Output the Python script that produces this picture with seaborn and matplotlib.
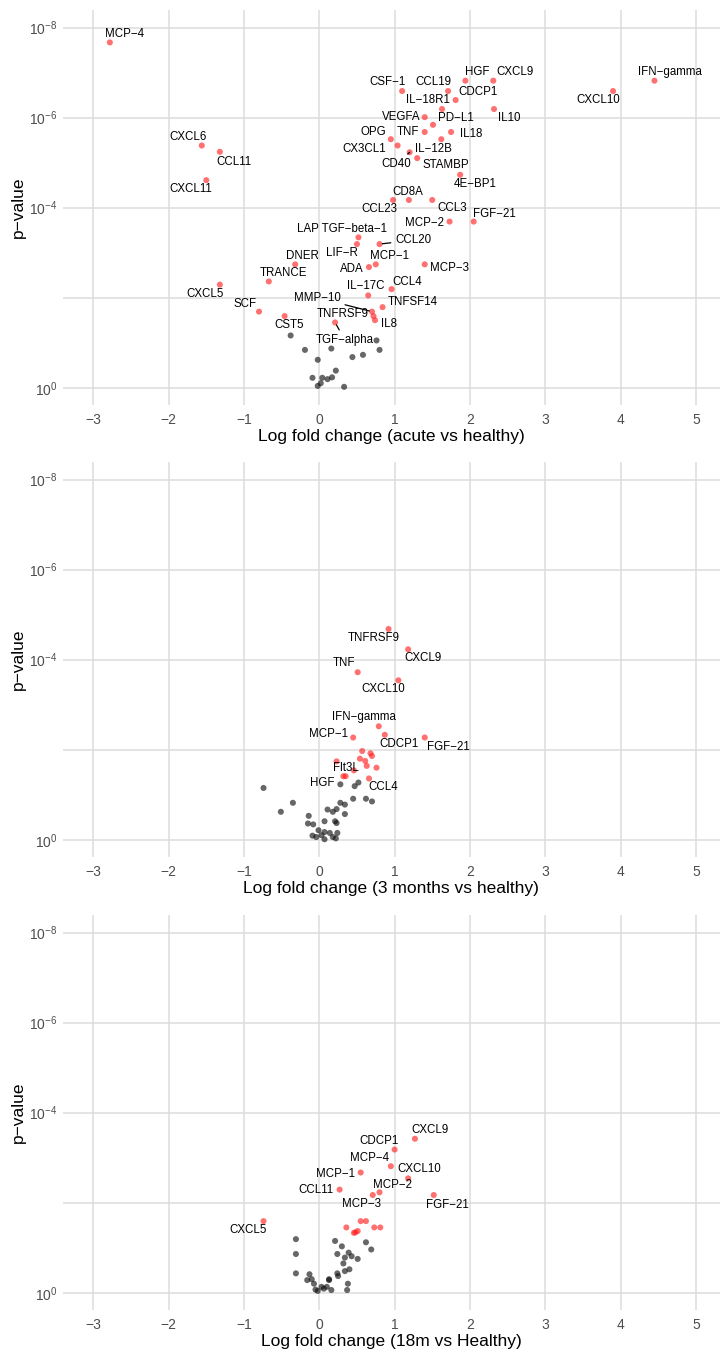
import matplotlib
matplotlib.use("Agg")
import matplotlib.pyplot as plt
import numpy as np
import pandas as pd
import seaborn as sns

# ---------------- data (log fold change, -log10 p-value) ----------------
# Panel 1: acute vs healthy
acute_sig_names = ["MCP-4", "CXCL6", "CCL11", "CXCL11", "CSF-1", "CCL19", "HGF", "CXCL9",
                   "CDCP1", "IL-18R1", "IL10", "CXCL10", "IFN-gamma", "VEGFA", "PD-L1", "TNF",
                   "IL18", "OPG", "IL-12B", "CX3CL1", "CD40", "STAMBP", "4E-BP1", "CCL23",
                   "CD8A", "CCL3", "MCP-2", "FGF-21", "LAP TGF-beta-1", "LIF-R", "CCL20",
                   "MCP-1", "ADA", "MCP-3", "DNER", "TRANCE", "CXCL5", "CCL4", "IL-17C",
                   "TNFSF14", "MMP-10", "TNFRSF9", "IL8", "SCF", "CST5", "TGF-alpha"]
acute_sig_lfc = [-2.78, -1.56, -1.32, -1.50, 1.10, 1.71, 1.94, 2.31,
                 1.81, 1.63, 2.32, 3.90, 4.45, 1.40, 1.51, 1.40,
                 1.75, 0.95, 1.62, 1.04, 1.20, 1.30, 1.87, 0.98,
                 1.19, 1.50, 1.73, 2.05, 0.52, 0.50, 0.80,
                 0.75, 0.66, 1.40, -0.32, -0.67, -1.32, 0.96, 0.65,
                 0.84, 0.70, 0.72, 0.74, -0.80, -0.46, 0.21]
acute_sig_nlp = [7.67, 5.38, 5.24, 4.61, 6.59, 6.59, 6.82, 6.82,
                 6.39, 6.19, 6.19, 6.59, 6.82, 6.01, 5.84, 5.68,
                 5.68, 5.52, 5.52, 5.38, 5.23, 5.10, 4.73, 4.17,
                 4.17, 4.17, 3.69, 3.69, 3.34, 3.19, 3.19,
                 2.74, 2.68, 2.74, 2.74, 2.36, 2.29, 2.19, 2.05,
                 1.79, 1.69, 1.59, 1.50, 1.69, 1.59, 1.45]
acute_ns_lfc = [-0.38, 0.76, -0.19, 0.16, 0.80, 0.44, 0.58, -0.02,
                0.22, -0.09, 0.04, 0.11, 0.17, 0.02, -0.02, 0.33]
acute_ns_nlp = [1.16, 1.05, 0.84, 0.87, 0.84, 0.68, 0.73, 0.62,
                0.38, 0.22, 0.22, 0.19, 0.23, 0.10, 0.04, 0.02]

# Panel 2: 3 months vs healthy
m3_sig_names = ["TNFRSF9", "CXCL9", "TNF", "CXCL10", "IFN-gamma", "MCP-1", "CDCP1", "FGF-21",
                "", "", "", "", "", "", "", "", "", "Flt3L", "", "CCL4"]
m3_sig_lfc = [0.92, 1.18, 0.51, 1.05, 0.79, 0.45, 0.87, 1.40,
              0.57, 0.68, 0.70, 0.54, 0.61, 0.63, 0.76, 0.23, 0.46, 0.32, 0.35, 0.66]
m3_sig_nlp = [4.68, 4.23, 3.72, 3.54, 2.52, 2.27, 2.33, 2.27,
              1.97, 1.92, 1.86, 1.80, 1.75, 1.64, 1.60, 1.74, 1.54, 1.41, 1.41, 1.36]
m3_ns_names = ["HGF"] + [""] * 30
m3_ns_lfc = [0.28, -0.74, -0.35, -0.51, 0.47, 0.52, 0.45, 0.62, 0.70, 0.28, 0.34,
             0.23, 0.11, 0.18, 0.34, -0.14, -0.15, -0.08, 0.07, 0.21, 0.23,
             -0.01, 0.07, 0.14, 0.24, -0.09, -0.04, 0.07, 0.22, 0.03, 0.18]
m3_ns_nlp = [1.23, 1.15, 0.82, 0.62, 1.19, 1.27, 0.91, 0.91, 0.85, 0.82, 0.78,
             0.68, 0.67, 0.62, 0.57, 0.53, 0.36, 0.34, 0.41, 0.41, 0.37,
             0.21, 0.17, 0.15, 0.15, 0.09, 0.06, 0.01, 0.03, 0.10, 0.06]

# Panel 3: 18 months vs healthy
m18_sig_names = ["CXCL9", "CDCP1", "MCP-4", "CXCL10", "MCP-1", "CCL11", "MCP-2", "MCP-3",
                 "FGF-21", "CXCL5", "", "", "", "", "", "", "", ""]
m18_sig_lfc = [1.27, 1.00, 0.95, 1.18, 0.55, 0.27, 0.80, 0.71, 1.52, -0.74,
               0.55, 0.62, 0.36, 0.73, 0.81, 0.48, 0.51, 0.46]
m18_sig_nlp = [3.42, 3.18, 2.81, 2.54, 2.67, 2.29, 2.23, 2.17, 2.17, 1.59,
               1.59, 1.59, 1.45, 1.45, 1.45, 1.34, 1.37, 1.33]
m18_ns_lfc = [-0.31, -0.31, -0.31, 0.21, 0.30, 0.62, 0.69, 0.24, 0.39, 0.34, 0.43,
              0.51, 0.32, 0.40, 0.34, 0.24, 0.25, 0.38, 0.37, -0.13, -0.16, -0.10,
              -0.07, 0.13, 0.13, -0.05, -0.02, 0.06, 0.10, 0.16, 0.03]
m18_ns_nlp = [1.19, 0.86, 0.43, 1.15, 1.03, 1.12, 0.96, 0.86, 0.89, 0.78, 0.81,
              0.75, 0.65, 0.52, 0.48, 0.43, 0.37, 0.20, 0.06, 0.41, 0.28, 0.30,
              0.20, 0.30, 0.28, 0.07, 0.04, 0.09, 0.13, 0.06, 0.13]

x_titles = ["Log fold change (acute vs healthy)",
            "Log fold change (3 months vs healthy)",
            "Log fold change (18m vs Healthy)"]
x_ticks = [-3, -2, -1, 0, 1, 2, 3, 4, 5]
y_ticks = [0, 2, 4, 6, 8]
y_ticklabels = ["$10^{0}$", "", "$10^{-4}$", "$10^{-6}$", "$10^{-8}$"]

# ---------------- label placement (pixel offsets from the point) ----------------
offsets = [
    {"MCP-4": (15, 8), "CXCL6": (-14, 9), "CCL11": (14, -10), "CXCL11": (-16, -9),
     "CSF-1": (-15, 9), "CCL19": (-15, 9), "HGF": (12, 9), "CXCL9": (22, 9),
     "CDCP1": (22, 8), "IL-18R1": (-14, 9), "IL10": (15, -9), "CXCL10": (-15, -9),
     "IFN-gamma": (15, 9), "VEGFA": (-24, 0), "PD-L1": (23, 7), "TNF": (-17, 0),
     "IL18": (20, -2), "OPG": (-18, 7), "IL-12B": (-8, -10), "CX3CL1": (-33, -3),
     "CD40": (-13, -12), "STAMBP": (29, -7), "4E-BP1": (15, -9), "CCL23": (-14, -9),
     "CD8A": (-1, 8), "CCL3": (20, -8), "MCP-2": (-25, -1), "FGF-21": (21, 8),
     "LAP TGF-beta-1": (-16, 8), "LIF-R": (-15, -9), "CCL20": (34, 4),
     "MCP-1": (14, 8), "ADA": (-17, -2), "MCP-3": (25, -4), "DNER": (7, 8),
     "TRANCE": (15, 8), "CXCL5": (-15, -9), "CCL4": (16, 7), "IL-17C": (-2, 9),
     "TNFSF14": (30, 5), "MMP-10": (-55, 14), "TNFRSF9": (-31, 2), "IL8": (14, -4),
     "SCF": (-14, 8), "CST5": (5, -9), "TGF-alpha": (10, -18)},
    {"TNFRSF9": (-15, -9), "CXCL9": (15, -9), "TNF": (-14, 9), "CXCL10": (-15, -9),
     "IFN-gamma": (-15, 9), "MCP-1": (-25, 4), "CDCP1": (14, -9), "FGF-21": (24, -9),
     "Flt3L": (3, 8), "HGF": (-18, 1), "CCL4": (14, -9)},
    {"CXCL9": (15, 9), "CDCP1": (-16, 9), "MCP-4": (-21, 8), "CXCL10": (11, 9),
     "MCP-1": (-25, -1), "CCL11": (-24, 0), "MCP-2": (13, 7), "MCP-3": (-11, -9),
     "FGF-21": (14, -10), "CXCL5": (-15, -9)},
]
segments = [{"CD40", "CCL20", "MMP-10", "TGF-alpha"}, set(), set()]

# ---------------- build frames ----------------
def frame(sig_names, sig_x, sig_y, ns_names, ns_x, ns_y):
    a = pd.DataFrame({"name": sig_names, "lfc": sig_x, "nlp": sig_y, "group": "sig"})
    b = pd.DataFrame({"name": ns_names, "lfc": ns_x, "nlp": ns_y, "group": "ns"})
    return pd.concat([b, a], ignore_index=True)

frames = [
    frame(acute_sig_names, acute_sig_lfc, acute_sig_nlp,
          [""] * len(acute_ns_lfc), acute_ns_lfc, acute_ns_nlp),
    frame(m3_sig_names, m3_sig_lfc, m3_sig_nlp, m3_ns_names, m3_ns_lfc, m3_ns_nlp),
    frame(m18_sig_names, m18_sig_lfc, m18_sig_nlp,
          [""] * len(m18_ns_lfc), m18_ns_lfc, m18_ns_nlp),
]

# ---------------- style ----------------
sns.set_theme(style="whitegrid")
plt.rcParams["font.family"] = ["Liberation Sans", "DejaVu Sans"]
plt.rcParams["mathtext.fontset"] = "custom"
plt.rcParams["mathtext.rm"] = "Liberation Sans"
plt.rcParams["mathtext.it"] = "Liberation Sans:italic"
plt.rcParams["mathtext.default"] = "regular"

W, H = 720, 1350
fig = plt.figure(figsize=(W / 100, H / 100), dpi=100)
fig.patch.set_facecolor("white")

left, right = 62.7, 720
tops = [10, 462, 915]
ax_h = 395
xlim = (-3.406, 5.32)
ylim = (-0.384, 8.39)

palette = {"sig": "#FF1A1A", "ns": "#0A0A0A"}

for i, df in enumerate(frames):
    top = tops[i]
    ax = fig.add_axes([left / W, 1 - (top + ax_h) / H, (right - left) / W, ax_h / H])
    ax.set_facecolor("white")
    sns.scatterplot(data=df, x="lfc", y="nlp", hue="group", palette=palette,
                    alpha=0.62, s=19, linewidth=0, legend=False, ax=ax)
    ax.set_xlim(*xlim)
    ax.set_ylim(*ylim)
    ax.set_xticks(x_ticks)
    ax.set_xticklabels([str(t).replace("-", "\u2212") for t in x_ticks])
    ax.set_yticks(y_ticks)
    ax.set_yticklabels(y_ticklabels)
    ax.grid(True, color="#DCDCDC", linewidth=1.1)
    ax.set_axisbelow(True)
    for sp in ax.spines.values():
        sp.set_visible(False)
    ax.tick_params(axis="both", length=0, labelsize=10, labelcolor="#4D4D4D")
    ax.tick_params(axis="x", pad=5.5)
    ax.tick_params(axis="y", pad=4)
    ax.set_xlabel(x_titles[i], fontsize=12.5, color="black", labelpad=2)
    ax.set_ylabel("p\u2212value", fontsize=12.5, color="black", labelpad=2)

    for _, r in df.iterrows():
        nm = r["name"]
        if not nm:
            continue
        dx, dy = offsets[i].get(nm, (0, 8))
        kw = {}
        if nm in segments[i]:
            kw["arrowprops"] = dict(arrowstyle="-", color="black", lw=0.9,
                                    shrinkA=1, shrinkB=2)
        ax.annotate(nm.replace("-", "\u2212"), xy=(r["lfc"], r["nlp"]),
                    xytext=(dx, dy), textcoords="offset pixels",
                    ha="center", va="center", fontsize=8.3, color="black", **kw)

fig.savefig("out.png", dpi=100, facecolor="white")
